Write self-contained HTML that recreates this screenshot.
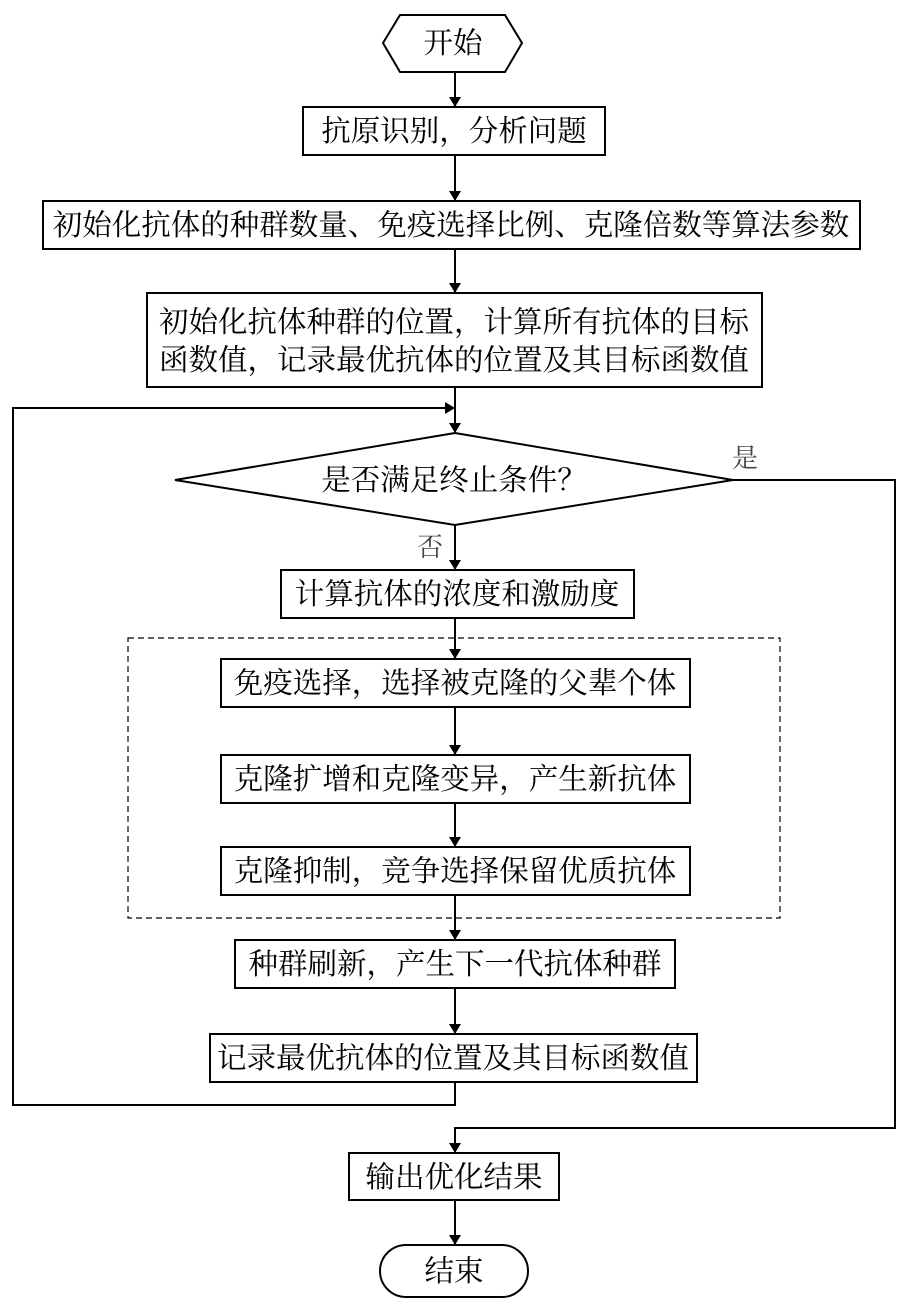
<!DOCTYPE html>
<html><head><meta charset="utf-8"><style>
html,body{margin:0;padding:0;background:#fff;}
svg text{font-family:"Liberation Serif","Noto Serif CJK SC","Noto Sans CJK SC",serif;font-size:29.5px;fill:#000;}
</style></head><body>
<svg width="909" height="1301" viewBox="0 0 909 1301" xmlns="http://www.w3.org/2000/svg">
<defs><marker id="a" markerWidth="10" markerHeight="12" refX="9" refY="6" orient="auto" markerUnits="userSpaceOnUse"><path d="M0,0 L10,6 L0,12 z" fill="#000"/></marker></defs>
<g fill="none" stroke="#000" stroke-width="2">
<polygon points="400,15 505,15 522,43 505,72 400,72 383,43" fill="#fff"/>
<rect x="303" y="107" width="302" height="48"/>
<rect x="43" y="201" width="817" height="48"/>
<rect x="147" y="293" width="615" height="94"/>
<polygon points="455,433 733,480 455,525 175,480"/>
<rect x="281" y="570" width="353" height="48"/>
<rect x="128" y="638" width="652" height="280" stroke-width="1.2" stroke-dasharray="6,4"/>
<rect x="221" y="659" width="469" height="48"/>
<rect x="221" y="755" width="469" height="48"/>
<rect x="221" y="847" width="469" height="48"/>
<rect x="235" y="940" width="440" height="48"/>
<rect x="210" y="1034" width="487" height="48"/>
<rect x="349" y="1153" width="210" height="47"/>
<rect x="380" y="1245" width="148" height="52" rx="26"/>
<line x1="455" y1="72" x2="455" y2="106" marker-end="url(#a)"/>
<line x1="455" y1="155" x2="455" y2="200" marker-end="url(#a)"/>
<line x1="455" y1="249" x2="455" y2="292" marker-end="url(#a)"/>
<line x1="455" y1="387" x2="455" y2="432" marker-end="url(#a)"/>
<polyline points="455,1082 455,1105 13,1105 13,408 454,408" marker-end="url(#a)"/>
<line x1="455" y1="525" x2="455" y2="569" marker-end="url(#a)"/>
<line x1="455" y1="618" x2="455" y2="658" marker-end="url(#a)"/>
<line x1="455" y1="707" x2="455" y2="754" marker-end="url(#a)"/>
<line x1="455" y1="803" x2="455" y2="846" marker-end="url(#a)"/>
<line x1="455" y1="895" x2="455" y2="939" marker-end="url(#a)"/>
<line x1="455" y1="988" x2="455" y2="1033" marker-end="url(#a)"/>
<polyline points="733,480 895,480 895,1128 455,1128 455,1152" marker-end="url(#a)"/>
<line x1="455" y1="1200" x2="455" y2="1244" marker-end="url(#a)"/>
</g>
<g text-anchor="middle">
<text x="453" y="53">开始</text>
<text x="454" y="141">抗原识别，分析问题</text>
<text x="451" y="235">初始化抗体的种群数量、免疫选择比例、克隆倍数等算法参数</text>
<text x="454" y="332">初始化抗体种群的位置，计算所有抗体的目标</text>
<text x="454" y="370">函数值，记录最优抗体的位置及其目标函数值</text>
<text x="454" y="490">是否满足终止条件？</text>
<text x="457" y="604">计算抗体的浓度和激励度</text>
<text x="455" y="693">免疫选择，选择被克隆的父辈个体</text>
<text x="455" y="789">克隆扩增和克隆变异，产生新抗体</text>
<text x="455" y="881">克隆抑制，竞争选择保留优质抗体</text>
<text x="455" y="974">种群刷新，产生下一代抗体种群</text>
<text x="453" y="1068">记录最优抗体的位置及其目标函数值</text>
<text x="454" y="1187">输出优化结果</text>
<text x="454" y="1281">结束</text>
<text x="745" y="467" style="fill:#444;font-size:26px">是</text>
<text x="430" y="556" style="fill:#444;font-size:26px">否</text>
</g>
</svg>
</body></html>
